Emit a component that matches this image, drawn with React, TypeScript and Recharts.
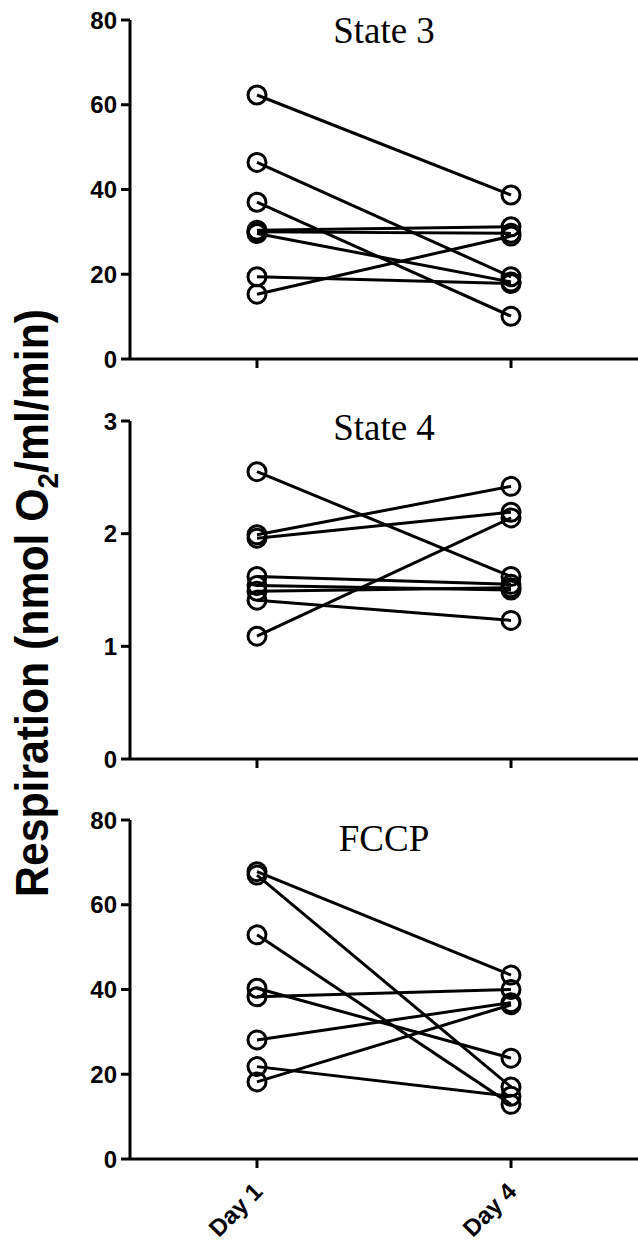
import React from 'react';
import { LineChart, Line, XAxis, YAxis } from 'recharts';

const xLabels = ['Day 1', 'Day 4'];
const xPositions = [1, 2];

const state3Day1 = [62.3, 46.4, 37.0, 30.4, 30.0, 29.6, 19.4, 15.3];
const state3Day4 = [38.7, 19.4, 10.1, 31.2, 29.7, 18.2, 17.8, 29.0];
const state3Ticks = [0, 20, 40, 60, 80];

const state4Day1 = [2.55, 1.99, 1.96, 1.62, 1.54, 1.49, 1.41, 1.09];
const state4Day4 = [1.62, 2.42, 2.19, 1.55, 1.5, 1.52, 1.23, 2.14];
const state4Ticks = [0, 1, 2, 3];

const fccpDay1 = [67.8, 67.0, 52.9, 40.3, 38.3, 28.1, 21.8, 18.2];
const fccpDay4 = [43.4, 17.0, 12.9, 23.8, 40.0, 36.9, 14.8, 36.4];
const fccpTicks = [0, 20, 40, 60, 80];

const SANS = '"Liberation Sans", Arial, sans-serif';
const SERIF = '"Liberation Serif", "Times New Roman", serif';

function pairs(d1: number[], d4: number[]) {
  return d1.map((v, i) => [
    { x: xPositions[0], v },
    { x: xPositions[1], v: d4[i] },
  ]);
}

const EmptyTick = () => <g />;

const DayTick = (props: any) => {
  const { x, y, payload } = props;
  const idx = xPositions.indexOf(payload.value);
  return (
    <text
      transform={`translate(${x + 7},${y + 23}) rotate(-45)`}
      textAnchor="end"
      fontFamily={SANS}
      fontWeight="bold"
      fontSize={24}
      fill="#000"
    >
      {xLabels[idx]}
    </text>
  );
};

type PanelProps = {
  top: number;
  height: number;
  marginTop: number;
  xHeight: number;
  d1: number[];
  d4: number[];
  domain: [number, number];
  ticks: number[];
  showLabels: boolean;
};

function Panel({ top, height, marginTop, xHeight, d1, d4, domain, ticks, showLabels }: PanelProps) {
  const series = pairs(d1, d4);
  return (
    <div style={{ position: 'absolute', left: 0, top }}>
      <LineChart width={638} height={height} margin={{ top: marginTop, right: 0, bottom: 0, left: 0 }}>
        <XAxis
          type="number"
          dataKey="x"
          domain={[0.5, 2.5]}
          ticks={xPositions}
          height={xHeight}
          tickSize={9}
          tickMargin={2}
          axisLine={{ stroke: '#000', strokeWidth: 3 }}
          tickLine={{ stroke: '#000', strokeWidth: 3 }}
          tick={showLabels ? <DayTick /> : <EmptyTick />}
          allowDataOverflow
        />
        <YAxis
          type="number"
          domain={domain}
          ticks={ticks}
          width={130}
          tickSize={9}
          tickMargin={4}
          axisLine={{ stroke: '#000', strokeWidth: 3 }}
          tickLine={{ stroke: '#000', strokeWidth: 3 }}
          tick={{ fill: '#000', fontSize: 24, fontWeight: 'bold', fontFamily: SANS }}
          allowDataOverflow
        />
        {series.map((data, i) => (
          <Line
            key={i}
            data={data}
            dataKey="v"
            type="linear"
            stroke="#000"
            strokeWidth={3}
            dot={{ r: 9, fill: 'none', stroke: '#000', strokeWidth: 3 }}
            activeDot={false}
            isAnimationActive={false}
          />
        ))}
      </LineChart>
    </div>
  );
}

const titles = ['State 3', 'State 4', 'FCCP'];
const titleY = [43, 440, 851];

export default function App() {
  return (
    <div style={{ position: 'absolute', left: 0, top: 0, width: 638, height: 1241, background: '#fff' }}>
      <Panel top={0} height={380} marginTop={20} xHeight={21} d1={state3Day1} d4={state3Day4} domain={[0, 80]} ticks={state3Ticks} showLabels={false} />
      <Panel top={400} height={380} marginTop={21} xHeight={21} d1={state4Day1} d4={state4Day4} domain={[0, 3]} ticks={state4Ticks} showLabels={false} />
      <Panel top={800} height={441} marginTop={20} xHeight={82} d1={fccpDay1} d4={fccpDay4} domain={[0, 80]} ticks={fccpTicks} showLabels={true} />
      <svg width={638} height={1241} style={{ position: 'absolute', left: 0, top: 0, pointerEvents: 'none' }}>
        {titles.map((t, i) => (
          <text key={t} x={384} y={titleY[i]} textAnchor="middle" fontFamily={SERIF} fontSize={37} fill="#000">
            {t}
          </text>
        ))}
        <text
          transform="translate(48,603) rotate(-90)"
          textAnchor="middle"
          fontFamily={SANS}
          fontWeight="bold"
          fontSize={46}
          fill="#000"
          textLength={588}
          lengthAdjust="spacingAndGlyphs"
        >
          Respiration (nmol O<tspan fontSize={30} dy={10}>2</tspan>
          <tspan dy={-10}>/ml/min)</tspan>
        </text>
      </svg>
    </div>
  );
}
